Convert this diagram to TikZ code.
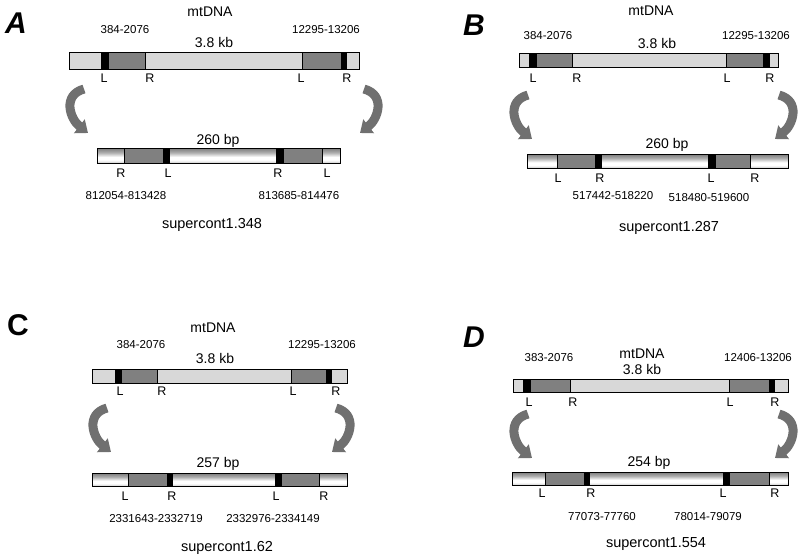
\documentclass[tikz,border=0pt]{standalone}
\usepackage{fontspec}
\setmainfont{Liberation Sans}
\usetikzlibrary{arrows.meta}
\definecolor{mtLightGray}{RGB}{216,216,216}
\definecolor{mtArmGray}{RGB}{128,128,128}
\definecolor{mtTurnGray}{RGB}{112,112,112}
\pgfdeclareverticalshading{contigShade}{100bp}{color(0bp)=(black!25); color(25bp)=(black!25); color(30bp)=(black!8); color(36bp)=(white); color(45bp)=(white); color(60bp)=(black!32); color(75bp)=(black!52); color(100bp)=(black!52)}

\begin{document}
\begin{tikzpicture}[
  x=1pt, y=-1pt,
  mtbar/.style={draw, line width=0.7pt, fill=mtLightGray},
  contig/.style={draw, line width=0.7pt, shade, shading=contigShade},
  arm/.style={draw, line width=0.7pt, fill=mtArmGray},
  junction/.style={fill=black},
  panel/.style={anchor=base west, inner sep=0pt, font=\fontsize{30}{30}\selectfont\bfseries\itshape},
  title/.style={anchor=base, inner sep=0pt, font=\fontsize{14}{16}\selectfont},
  scaffold/.style={anchor=base, inner sep=0pt, font=\fontsize{14.5}{16}\selectfont},
  coord/.style={anchor=base, inner sep=0pt, font=\fontsize{11.5}{13}\selectfont},
  side/.style={anchor=base, inner sep=0pt, font=\fontsize{12.5}{14}\selectfont},
  loopArrow/.pic={\draw[line width=9pt, mtTurnGray, -{Triangle[length=11pt,width=17pt]}] (0,0) .. controls (-22,6) and (-14,30) .. (4,44);}
]
  \useasboundingbox (0,0) rectangle (800,558);

  % A
  \node[panel] (letA) at (5,33) {A};
  \node[title] (mtA) at (210,16) {mtDNA};
  \node[coord] (fromA1) at (125,33) {384-2076};
  \node[coord] (fromA2) at (326,33) {12295-13206};
  \node[title] (kbA) at (214,47) {3.8 kb};
  \draw[mtbar] (69,52) rectangle (359,69);
  \draw[arm] (108,52) rectangle (145,69);
  \draw[arm] (302,52) rectangle (341,69);
  \fill[junction] (101,52) rectangle (108,69);
  \fill[junction] (341,52) rectangle (347,69);
  \node[side] (mtA1) at (104,82) {L};
  \node[side] (mtA2) at (150,82) {R};
  \node[side] (mtA3) at (301,82) {L};
  \node[side] (mtA4) at (347,82) {R};
  \pic (turnA1) at (84,89) {loopArrow};
  \pic[xscale=-1] (turnA2) at (364,89) {loopArrow};
  \node[title] (bpA) at (218,144) {260 bp};
  \draw[contig] (97,148) rectangle (340,163);
  \draw[arm] (124,148) rectangle (163,163);
  \draw[arm] (283,148) rectangle (322,163);
  \fill[junction] (163,148) rectangle (170,163);
  \fill[junction] (276,148) rectangle (283,163);
  \node[side] (scA1) at (121,177) {R};
  \node[side] (scA2) at (168,177) {L};
  \node[side] (scA3) at (278,177) {R};
  \node[side] (scA4) at (327,177) {L};
  \node[coord] (toA1) at (126,199) {812054-813428};
  \node[coord] (toA2) at (299,199) {813685-814476};
  \node[scaffold] (nameA) at (212,228) {supercont1.348};

  % B
  \node[panel] (letB) at (463,35) {B};
  \node[title] (mtB) at (651,15) {mtDNA};
  \node[coord] (fromB1) at (548,39) {384-2076};
  \node[coord] (fromB2) at (756,39) {12295-13206};
  \node[title] (kbB) at (657,48) {3.8 kb};
  \draw[mtbar] (519,53) rectangle (778,67);
  \draw[arm] (536,53) rectangle (572,67);
  \draw[arm] (726,53) rectangle (763,67);
  \fill[junction] (529,53) rectangle (536,67);
  \fill[junction] (763,53) rectangle (770,67);
  \node[side] (mtB1) at (533,82) {L};
  \node[side] (mtB2) at (577,82) {R};
  \node[side] (mtB3) at (727,82) {L};
  \node[side] (mtB4) at (770,82) {R};
  \pic (turnB1) at (528,95) {loopArrow};
  \pic[xscale=-1] (turnB2) at (779,95) {loopArrow};
  \node[title] (bpB) at (667,148) {260 bp};
  \draw[contig] (527,154) rectangle (788,168);
  \draw[arm] (557,154) rectangle (595,168);
  \draw[arm] (715,154) rectangle (750,168);
  \fill[junction] (595,154) rectangle (602,168);
  \fill[junction] (708,154) rectangle (715,168);
  \node[side] (scB1) at (558,182) {L};
  \node[side] (scB2) at (600,182) {R};
  \node[side] (scB3) at (711,182) {L};
  \node[side] (scB4) at (755,182) {R};
  \node[coord] (toB1) at (613,199) {517442-518220};
  \node[coord] (toB2) at (709,201) {518480-519600};
  \node[scaffold] (nameB) at (669,231) {supercont1.287};

  % C
  \node[panel, font=\fontsize{30}{30}\selectfont\bfseries] (letC) at (7,335) {C};
  \node[title] (mtC) at (213,332) {mtDNA};
  \node[coord] (fromC1) at (141,348) {384-2076};
  \node[coord] (fromC2) at (322,348) {12295-13206};
  \node[title] (kbC) at (215,363) {3.8 kb};
  \draw[mtbar] (92,369) rectangle (347,383);
  \draw[arm] (121,369) rectangle (157,383);
  \draw[arm] (291,369) rectangle (326,383);
  \fill[junction] (115,369) rectangle (121,383);
  \fill[junction] (326,369) rectangle (332,383);
  \node[side] (mtC1) at (120,395) {L};
  \node[side] (mtC2) at (162,395) {R};
  \node[side] (mtC3) at (293,395) {L};
  \node[side] (mtC4) at (336,395) {R};
  \pic (turnC1) at (107,408) {loopArrow};
  \pic[xscale=-1] (turnC2) at (336,408) {loopArrow};
  \node[title] (bpC) at (218,467) {257 bp};
  \draw[contig] (92,473) rectangle (347,486);
  \draw[arm] (128,473) rectangle (167,486);
  \draw[arm] (281,473) rectangle (319,486);
  \fill[junction] (167,473) rectangle (173,486);
  \fill[junction] (275,473) rectangle (281,486);
  \node[side] (scC1) at (125,500) {L};
  \node[side] (scC2) at (172,500) {R};
  \node[side] (scC3) at (276,500) {L};
  \node[side] (scC4) at (324,500) {R};
  \node[coord] (toC1) at (156,522) {2331643-2332719};
  \node[coord] (toC2) at (273,522) {2332976-2334149};
  \node[scaffold] (nameC) at (227,551) {supercont1.62};

  % D
  \node[panel] (letD) at (463,347) {D};
  \node[title] (mtD) at (642,358) {mtDNA};
  \node[coord] (fromD1) at (549,361) {383-2076};
  \node[coord] (fromD2) at (758,361) {12406-13206};
  \node[title] (kbD) at (642,374) {3.8 kb};
  \draw[mtbar] (513,379) rectangle (788,392);
  \draw[arm] (530,379) rectangle (570,392);
  \draw[arm] (729,379) rectangle (769,392);
  \fill[junction] (523,379) rectangle (530,392);
  \fill[junction] (769,379) rectangle (775,392);
  \node[side] (mtD1) at (529,406) {L};
  \node[side] (mtD2) at (573,406) {R};
  \node[side] (mtD3) at (730,406) {L};
  \node[side] (mtD4) at (775,406) {R};
  \pic (turnD1) at (528,414) {loopArrow};
  \pic[xscale=-1] (turnD2) at (779,414) {loopArrow};
  \node[title] (bpD) at (649,466) {254 bp};
  \draw[contig] (512,472) rectangle (788,485);
  \draw[arm] (545,472) rectangle (584,485);
  \draw[arm] (729,472) rectangle (769,485);
  \fill[junction] (584,472) rectangle (590,485);
  \fill[junction] (723,472) rectangle (729,485);
  \node[side] (scD1) at (542,497) {L};
  \node[side] (scD2) at (591,497) {R};
  \node[side] (scD3) at (723,497) {L};
  \node[side] (scD4) at (775,497) {R};
  \node[coord] (toD1) at (602,520) {77073-77760};
  \node[coord] (toD2) at (708,520) {78014-79079};
  \node[scaffold] (nameD) at (656,547) {supercont1.554};
\end{tikzpicture}
\end{document}
